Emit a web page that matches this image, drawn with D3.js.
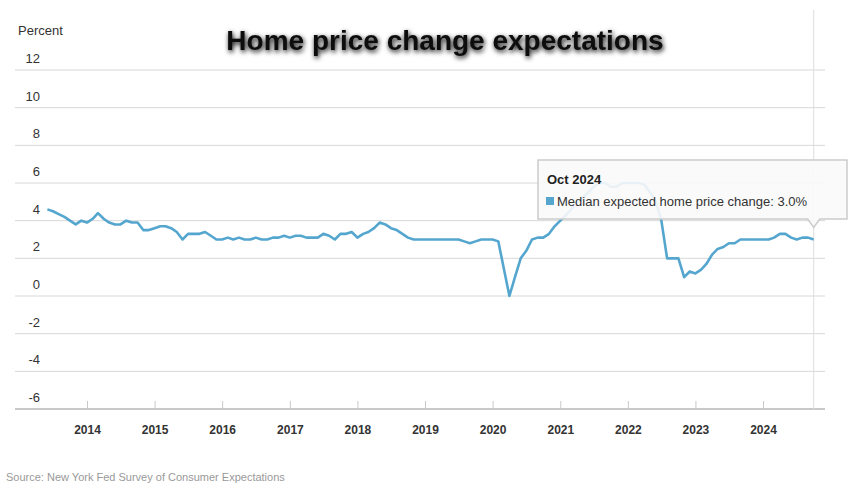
<!DOCTYPE html>
<html><head><meta charset="utf-8">
<script src="https://cdn.jsdelivr.net/npm/d3@7"></script>
<style>
body{margin:0;background:#fff;}
text{font-family:"Liberation Sans",Arial,sans-serif;}
</style></head><body>
<div id="chart"></div>
<script>
// monthly values, first point Jun 2013, last point Oct 2024
var startYear = 2013, startMonth = 5;
var values2013 = [4.6, 4.5, 4.35, 4.2, 4.0, 3.8, 4.0];
var values2014 = [3.9, 4.1, 4.4, 4.1, 3.9, 3.8, 3.8, 4.0, 3.9, 3.9, 3.5, 3.5];
var values2015 = [3.6, 3.7, 3.7, 3.6, 3.4, 3.0, 3.3, 3.3, 3.3, 3.4, 3.2, 3.0];
var values2016 = [3.0, 3.1, 3.0, 3.1, 3.0, 3.0, 3.1, 3.0, 3.0, 3.1, 3.1, 3.2];
var values2017 = [3.1, 3.2, 3.2, 3.1, 3.1, 3.1, 3.3, 3.2, 3.0, 3.3, 3.3, 3.4];
var values2018 = [3.1, 3.3, 3.4, 3.6, 3.9, 3.8, 3.6, 3.5, 3.3, 3.1, 3.0, 3.0];
var values2019 = [3.0, 3.0, 3.0, 3.0, 3.0, 3.0, 3.0, 2.9, 2.8, 2.9, 3.0, 3.0];
var values2020 = [3.0, 2.9, 1.5, 0.0, 1.0, 2.0, 2.4, 3.0, 3.1, 3.1, 3.3, 3.7];
var values2021 = [4.0, 4.3, 4.6, 5.0, 5.2, 5.5, 5.8, 6.0, 6.0, 5.8, 5.8, 6.0];
var values2022 = [6.0, 6.0, 6.0, 5.9, 5.5, 5.0, 4.0, 2.0, 2.0, 2.0, 1.0, 1.3];
var values2023 = [1.2, 1.4, 1.7, 2.2, 2.5, 2.6, 2.8, 2.8, 3.0, 3.0, 3.0, 3.0];
var values2024 = [3.0, 3.0, 3.1, 3.3, 3.3, 3.1, 3.0, 3.1, 3.1, 3.0];
var yTicks = [-6, -4, -2, 0, 2, 4, 6, 8, 10, 12];
var xTickYears = [2014, 2015, 2016, 2017, 2018, 2019, 2020, 2021, 2022, 2023, 2024];
var seriesName = 'Median expected home price change';

var allValues = [].concat(values2013, values2014, values2015, values2016, values2017,
    values2018, values2019, values2020, values2021, values2022, values2023, values2024);
var data = allValues.map(function(v, i) {
    return {date: new Date(startYear, startMonth + i, 1), value: v};
});

var width = 848, height = 485,
    plotLeft = 15, plotRight = 825, plotTop = 70, plotBottom = 409;

var svg = d3.select('#chart').append('svg')
    .attr('width', width).attr('height', height);

var xScale = d3.scaleTime()
    .domain([new Date(2014, 0, 1), new Date(2024, 0, 1)])
    .range([87, 763]);
var yScale = d3.scaleLinear().domain([-6, 12]).range([plotBottom, plotTop]);

// grid
svg.append('g').selectAll('line')
    .data(yTicks.filter(function(d) { return d > -6; }))
    .enter().append('line')
    .attr('x1', plotLeft).attr('x2', plotRight)
    .attr('y1', function(d) { return yScale(d); })
    .attr('y2', function(d) { return yScale(d); })
    .attr('stroke', '#d8d8d8').attr('stroke-width', 1);

svg.append('g').selectAll('text')
    .data(yTicks).enter().append('text')
    .attr('x', 40).attr('y', function(d) { return yScale(d) - 7; })
    .attr('text-anchor', 'end')
    .attr('font-size', 13).attr('fill', '#333')
    .text(function(d) { return d; });

// x axis
var xAxis = d3.axisBottom(xScale)
    .tickValues(xTickYears.map(function(y) { return new Date(y, 0, 1); }))
    .tickFormat(d3.timeFormat('%Y'))
    .tickSizeInner(-8).tickSizeOuter(0).tickPadding(16);
var xx = svg.append('g').attr('transform', 'translate(0,' + plotBottom + ')').call(xAxis);
xx.select('.domain').attr('d', 'M' + plotLeft + ',0H' + plotRight).attr('stroke', '#c8c8c8').attr('stroke-width', 2);
xx.selectAll('.tick line').attr('stroke', '#c8c8c8');
xx.selectAll('.tick text').attr('font-size', 12).attr('font-weight', 'bold').attr('fill', '#333')
    .attr('font-family', '"Liberation Sans Narrow","Liberation Sans",sans-serif');

// crosshair at last point
var last = data[data.length - 1];
svg.append('line')
    .attr('x1', xScale(last.date)).attr('x2', xScale(last.date))
    .attr('y1', 10).attr('y2', plotBottom)
    .attr('stroke', '#ddd').attr('stroke-width', 1);

// line
svg.append('path').datum(data)
    .attr('fill', 'none').attr('stroke', '#55a6cf').attr('stroke-width', 2.6)
    .attr('stroke-linejoin', 'round')
    .attr('d', d3.line()
        .x(function(d) { return xScale(d.date); })
        .y(function(d) { return yScale(d.value); }));

// tooltip
var tx = xScale(last.date), ty = yScale(last.value);
var tip = svg.append('g');
tip.append('path')
    .attr('d', 'M538,160H847V219H' + (tx + 6) + 'L' + tx + ',' + (ty - 12) + 'L' + (tx - 6) + ',219H538Z')
    .attr('fill', 'rgba(250,250,250,0.9)').attr('stroke', '#ccc').attr('stroke-width', 1.5);
tip.append('text').attr('x', 547).attr('y', 184)
    .attr('font-size', 13).attr('font-weight', 'bold').attr('fill', '#222')
    .text(d3.timeFormat('%b %Y')(last.date));
tip.append('rect').attr('x', 546).attr('y', 197).attr('width', 8).attr('height', 8).attr('fill', '#55a6cf');
tip.append('text').attr('x', 557).attr('y', 206)
    .attr('font-size', 13).attr('fill', '#333')
    .text(seriesName + ': ' + last.value.toFixed(1) + '%');

// title and labels
var defs = svg.append('defs');
var f = defs.append('filter').attr('id', 'glow').attr('x', '-10%').attr('y', '-30%').attr('width', '120%').attr('height', '160%');
f.append('feGaussianBlur').attr('in', 'SourceAlpha').attr('stdDeviation', 2.5).attr('result', 'b');
f.append('feOffset').attr('in', 'b').attr('dx', 1).attr('dy', 2).attr('result', 'o');
var m = f.append('feMerge');
m.append('feMergeNode').attr('in', 'o');
m.append('feMergeNode').attr('in', 'SourceGraphic');

svg.append('text').attr('x', 445).attr('y', 50)
    .attr('text-anchor', 'middle')
    .attr('font-family', '"Liberation Serif","DejaVu Serif",serif')
    .attr('font-size', 28).attr('font-weight', 'bold').attr('fill', '#111')
    .attr('filter', 'url(#glow)')
    .text('Home price change expectations');

svg.append('text').attr('x', 18).attr('y', 35)
    .attr('font-size', 13).attr('fill', '#333').text('Percent');

svg.append('text').attr('x', 6).attr('y', 481)
    .attr('font-size', 11).attr('fill', '#999')
    .text('Source: New York Fed Survey of Consumer Expectations');
</script>
</body></html>
